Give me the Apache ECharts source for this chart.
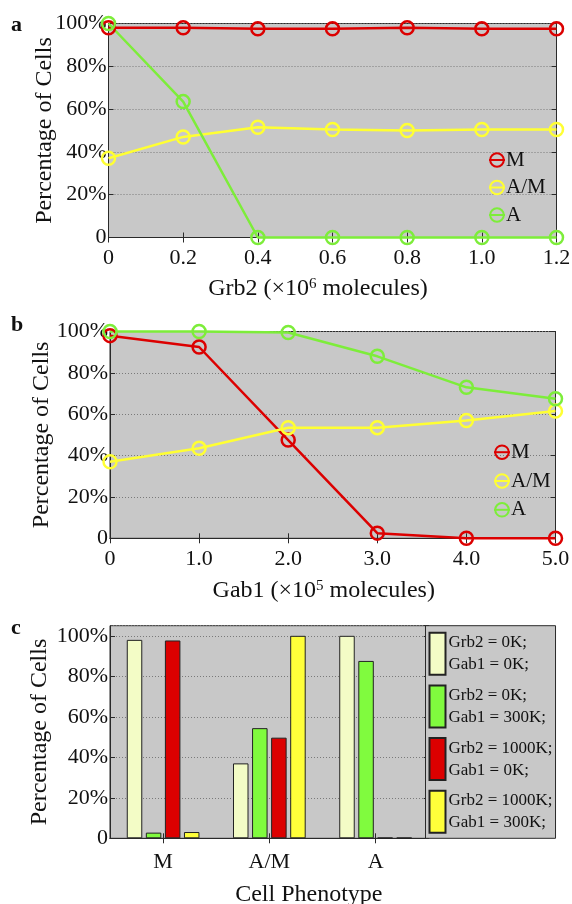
<!DOCTYPE html>
<html><head><meta charset="utf-8">
<script src="https://cdn.jsdelivr.net/npm/echarts@6.0.0/dist/echarts.min.js"></script>
<style>html,body{margin:0;padding:0;background:#fff}#chart{width:572px;height:904px}</style>
</head><body><div id="chart"></div>
<script>
// ---- data ----
const grb2Ticks = ['0', '0.2', '0.4', '0.6', '0.8', '1.0', '1.2'];
const grb2M  = [98, 98, 97.5, 97.5, 98, 97.5, 97.5];
const grb2AM = [37, 47, 51.5, 50.5, 50, 50.5, 50.5];
const grb2A  = [100, 63.5, 0, 0, 0, 0, 0];

const gab1Ticks = ['0', '1.0', '2.0', '3.0', '4.0', '5.0'];
const gab1M  = [98, 92.5, 47.5, 2.5, 0, 0];
const gab1AM = [37, 43.5, 53.5, 53.5, 57, 61.5];
const gab1A  = [100, 100, 99.5, 88, 73, 67.5];

const phenotypes = ['M', 'A/M', 'A'];
const conditionNames = ['Grb2 = 0K;\nGab1 = 0K;', 'Grb2 = 0K;\nGab1 = 300K;', 'Grb2 = 1000K;\nGab1 = 0K;', 'Grb2 = 1000K;\nGab1 = 300K;'];
const condGrb0Gab0     = [98, 37, 100];
const condGrb0Gab300   = [2.8, 54.4, 87.6];
const condGrb1000Gab0  = [97.7, 49.7, 0.3];
const condGrb1000Gab300 = [3.1, 100, 0.3];

const lineNames = ['M', 'A/M', 'A'];
const yTicksPct = [0, 20, 40, 60, 80, 100];

// ---- styles ----
const FONT = 'Liberation Serif';
const BG = '#c8c8c8';
const AX = '#2a2a2a';
const RED = '#dc0000', YEL = '#ffff33', GRN = '#7ded3a';
const BAR_COLORS = ['#f3fcc6', '#80fb3e', '#dc0000', '#ffff3a'];

const chart = echarts.init(document.getElementById('chart'), null, {renderer: 'canvas'});

const grids = [
  {left: 108.5, right: 15.5, top: 23.5, bottom: 904 - 237.5},
  {left: 110, right: 16.5, top: 331.5, bottom: 904 - 538.3},
  {left: 110, right: 572 - 428.7, top: 625.7, bottom: 904 - 838.3}
].map(g => Object.assign({show: true, backgroundColor: BG, borderColor: AX, borderWidth: 1, outerBoundsMode: 'none', containLabel: false}, g));

function yFmt(v) { return yTicksPct.indexOf(v) < 0 ? '' : (v === 0 ? '0' : v + '%'); }

function xBottom(gi, data, boundaryGap, name, namePad, nameGap, labelMargin) {
  return {
    type: 'category', gridIndex: gi, data: data, boundaryGap: boundaryGap, position: 'bottom',
    axisLine: {show: true, lineStyle: {color: AX, width: 1}},
    axisTick: {show: true, inside: true, length: 5, alignWithLabel: true, lineStyle: {color: AX}},
    axisLabel: {fontFamily: FONT, fontSize: 22, color: '#111', margin: labelMargin},
    splitLine: {show: false},
    name: name, nameLocation: 'middle', nameGap: nameGap, nameMoveOverlap: false,
    nameTextStyle: {fontFamily: FONT, fontSize: 24, color: '#111', padding: namePad,
      rich: {sup: {fontFamily: FONT, fontSize: 15, color: '#111', verticalAlign: 'top', lineHeight: 24}}}
  };
}
function xTop(gi, data, boundaryGap) {
  return {
    type: 'category', gridIndex: gi, data: data, boundaryGap: boundaryGap, position: 'top',
    axisLine: {show: true, lineStyle: {color: AX, width: 1}},
    axisTick: {show: true, inside: true, length: 5, alignWithLabel: true, lineStyle: {color: AX}},
    axisLabel: {show: false}, splitLine: {show: false}
  };
}
function yLeft(gi, max, nameGap) {
  return {
    type: 'value', gridIndex: gi, min: 0, max: max, interval: 20, position: 'left',
    axisLine: {show: true, lineStyle: {color: AX, width: 1}},
    axisTick: {show: true, inside: true, length: 5, lineStyle: {color: AX}},
    axisLabel: {fontFamily: FONT, fontSize: 22, color: '#111', margin: 2, formatter: yFmt, showMaxLabel: max === 100},
    splitLine: {show: true, lineStyle: {color: '#7a7a7a', type: [1, 2], width: 1}},
    name: 'Percentage of Cells', nameLocation: 'middle', nameGap: nameGap, nameMoveOverlap: false,
    nameTextStyle: {fontFamily: FONT, fontSize: 24, color: '#111'}
  };
}
function yRight(gi, max) {
  return {
    type: 'value', gridIndex: gi, min: 0, max: max, interval: 20, position: 'right',
    axisLine: {show: true, lineStyle: {color: AX, width: 1}},
    axisTick: {show: true, inside: true, length: 5, lineStyle: {color: AX}},
    axisLabel: {show: false}, splitLine: {show: false}
  };
}

function lineSeries(name, data, color, xi, yi) {
  return {
    type: 'line', name: name, data: data, xAxisIndex: xi, yAxisIndex: yi,
    symbol: 'circle', symbolSize: 13,
    lineStyle: {color: color, width: 2.5},
    itemStyle: {color: 'rgba(0,0,0,0)', borderColor: color, borderWidth: 2.5},
    clip: false, animation: false
  };
}
function barSeries(name, data, color) {
  return {
    type: 'bar', name: name, data: data, xAxisIndex: 4, yAxisIndex: 4,
    barWidth: 15.5, barGap: '23%',
    itemStyle: {color: color, borderColor: '#222', borderWidth: 1},
    animation: false
  };
}

const lineLegend = (left, top, gap) => ({
  data: lineNames, orient: 'vertical', left: left, top: top, padding: 0,
  itemGap: gap, itemWidth: 16, itemHeight: 17, selectedMode: false,
  textStyle: {fontFamily: FONT, fontSize: 21, lineHeight: 20, color: '#111', padding: [0, 0, 0, -4]}
});

const option = {
  animation: false,
  backgroundColor: '#fff',
  title: [
    {text: 'a', left: 11, top: 14, padding: 0, textStyle: {fontFamily: FONT, fontSize: 22, fontWeight: 'bold', color: '#111'}},
    {text: 'b', left: 11, top: 314, padding: 0, textStyle: {fontFamily: FONT, fontSize: 22, fontWeight: 'bold', color: '#111'}},
    {text: 'c', left: 11, top: 617, padding: 0, textStyle: {fontFamily: FONT, fontSize: 22, fontWeight: 'bold', color: '#111'}}
  ],
  grid: grids,
  xAxis: [
    xBottom(0, grb2Ticks, false, 'Grb2 (×10{sup|6} molecules)', [0, 29, 0, 0], 39, 10),
    xTop(0, grb2Ticks, false),
    xBottom(1, gab1Ticks, false, 'Gab1 (×10{sup|5} molecules)', [0, 18, 0, 0], 40, 10),
    xTop(1, gab1Ticks, false),
    xBottom(2, phenotypes, true, 'Cell Phenotype', [0, 0, 0, 79], 44, 13),
    xTop(2, phenotypes, true)
  ],
  yAxis: [
    yLeft(0, 100, 52), yRight(0, 100),
    yLeft(1, 100, 56), yRight(1, 100),
    yLeft(2, 105, 58), yRight(2, 105)
  ],
  legend: [
    lineLegend(488, 149.5, 6.5),
    lineLegend(493, 441.7, 7.8),
    {
      data: conditionNames, orient: 'vertical', left: 425.5, top: 625.7,
      padding: [6, 3, 4.5, 3], itemGap: 8.7, itemWidth: 16, itemHeight: 42,
      icon: 'rect', selectedMode: false,
      backgroundColor: BG, borderColor: AX, borderWidth: 1,
      textStyle: {fontFamily: FONT, fontSize: 17, lineHeight: 22, color: '#111', padding: [0, 0, 0, -2]}
    }
  ],
  series: [
    lineSeries('M', grb2M, RED, 0, 0),
    lineSeries('A/M', grb2AM, YEL, 0, 0),
    lineSeries('A', grb2A, GRN, 0, 0),
    lineSeries('M', gab1M, RED, 2, 2),
    lineSeries('A/M', gab1AM, YEL, 2, 2),
    lineSeries('A', gab1A, GRN, 2, 2),
    barSeries(conditionNames[0], condGrb0Gab0, BAR_COLORS[0]),
    barSeries(conditionNames[1], condGrb0Gab300, BAR_COLORS[1]),
    barSeries(conditionNames[2], condGrb1000Gab0, BAR_COLORS[2]),
    barSeries(conditionNames[3], condGrb1000Gab300, BAR_COLORS[3])
  ]
};
chart.setOption(option);
</script></body></html>
